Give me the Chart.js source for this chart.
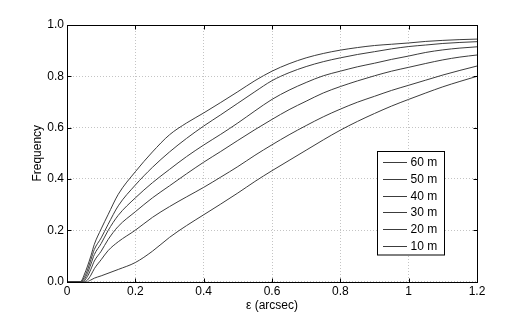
<!DOCTYPE html>
<html>
<head>
<meta charset="utf-8">
<script src="https://cdn.jsdelivr.net/npm/chart.js@4.4.0/dist/chart.umd.min.js"></script>
<style>
html,body{margin:0;padding:0;background:#fff;}
canvas{display:block;}
</style>
</head>
<body>
<canvas id="c" width="529" height="315"></canvas>
<script>
// ---- data ----
const epsilon = [0,0.04,0.05,0.06,0.07,0.08,0.1,0.12,0.15,0.2,0.25,0.3,0.35,0.4,0.45,0.5,0.55,0.6,0.65,0.7,0.75,0.8,0.85,0.9,0.95,1.0,1.05,1.1,1.15,1.2];
const seriesLabels = ['60 m','50 m','40 m','30 m','20 m','10 m'];
const freq60 = [0,0,0.025,0.06,0.10,0.145,0.205,0.26,0.34,0.428,0.505,0.572,0.618,0.657,0.698,0.74,0.783,0.82,0.849,0.872,0.889,0.902,0.912,0.92,0.925,0.93,0.936,0.94,0.943,0.945];
const freq50 = [0,0,0.015,0.045,0.085,0.125,0.17,0.222,0.295,0.376,0.445,0.505,0.558,0.606,0.65,0.695,0.74,0.783,0.814,0.838,0.857,0.872,0.885,0.896,0.907,0.916,0.922,0.928,0.932,0.935];
const freq40 = [0,0,0.008,0.032,0.068,0.105,0.148,0.198,0.258,0.326,0.385,0.437,0.487,0.532,0.574,0.618,0.665,0.71,0.746,0.776,0.802,0.82,0.837,0.851,0.866,0.879,0.893,0.903,0.91,0.915];
const freq30 = [0,0,0.003,0.02,0.048,0.08,0.118,0.163,0.215,0.272,0.326,0.373,0.42,0.465,0.507,0.55,0.592,0.632,0.67,0.703,0.735,0.76,0.782,0.802,0.82,0.835,0.85,0.864,0.875,0.883];
const freq20 = [0,0,0,0.006,0.025,0.05,0.085,0.12,0.155,0.2,0.25,0.292,0.33,0.367,0.407,0.448,0.492,0.533,0.572,0.608,0.642,0.672,0.699,0.722,0.745,0.765,0.785,0.805,0.823,0.84];
const freq10 = [0,0,0,0,0.006,0.013,0.022,0.032,0.047,0.074,0.118,0.172,0.218,0.26,0.302,0.345,0.39,0.432,0.472,0.512,0.552,0.59,0.624,0.655,0.684,0.71,0.735,0.759,0.78,0.80];
const xTickLabels = ['0','0.2','0.4','0.6','0.8','1','1.2'];
const yTickLabels = ['0.0','0.2','0.4','0.6','0.8','1.0'];
const xTitle = 'ε (arcsec)';
const yTitle = 'Frequency';

const allSeries = [freq60,freq50,freq40,freq30,freq20,freq10];
const LINE = '#3c3c3c';
const FONT = '"Liberation Sans", Arial, Helvetica, sans-serif';

const datasets = allSeries.map((vals,i)=>({
  label: seriesLabels[i],
  data: epsilon.map((x,j)=>({x:x,y:vals[j]})),
  borderColor: LINE,
  borderWidth: 1,
  pointRadius: 0,
  cubicInterpolationMode: 'monotone',
  fill: false
}));

const framePlugin = {
  id:'frame',
  afterDraw(chart){
    const ctx = chart.ctx;
    const a = chart.chartArea;
    const xs = chart.scales.x, ys = chart.scales.y;
    ctx.save();
    ctx.strokeStyle = '#000';
    ctx.lineWidth = 1;
    const L = Math.round(a.left)+0.5, R = Math.round(a.right)+0.5, T = Math.round(a.top)+0.5, B = Math.round(a.bottom)+0.5;
    ctx.strokeRect(L, T, R-L, B-T);
    ctx.beginPath();
    xs.ticks.forEach(t=>{
      const px = Math.round(xs.getPixelForValue(t.value))+0.5;
      ctx.moveTo(px,B); ctx.lineTo(px,B-4);
      ctx.moveTo(px,T); ctx.lineTo(px,T+4);
    });
    ys.ticks.forEach(t=>{
      const py = Math.round(ys.getPixelForValue(t.value))+0.5;
      ctx.moveTo(L,py); ctx.lineTo(L+4,py);
      ctx.moveTo(R,py); ctx.lineTo(R-4,py);
    });
    ctx.stroke();

    // axis titles
    ctx.fillStyle = '#000';
    ctx.font = '12px ' + FONT;
    ctx.textAlign = 'center';
    ctx.textBaseline = 'middle';
    ctx.fillText(xTitle, (a.left+a.right)/2, 306);
    ctx.save();
    ctx.translate(38, (a.top+a.bottom)/2);
    ctx.rotate(-Math.PI/2);
    ctx.fillText(yTitle, 0, 0);
    ctx.restore();

    // legend
    const bx = 377.5, by = 151.5, bw = 67, bh = 103.5;
    ctx.fillStyle = '#fff';
    ctx.fillRect(bx, by, bw, bh);
    ctx.strokeStyle = '#000';
    ctx.strokeRect(bx, by, bw, bh);
    ctx.textAlign = 'left';
    chart.data.datasets.forEach((ds,i)=>{
      const y = Math.round(161.7 + i*16.9)+0.5;
      ctx.strokeStyle = ds.borderColor;
      ctx.beginPath();
      ctx.moveTo(383, y); ctx.lineTo(407, y);
      ctx.stroke();
      ctx.fillStyle = '#000';
      ctx.fillText(ds.label, 410.5, y);
    });
    ctx.restore();
  }
};

new Chart(document.getElementById('c'), {
  type:'line',
  data:{datasets},
  plugins:[framePlugin],
  options:{
    responsive:false,
    animation:false,
    events:[],
    layout:{padding:{top:25,right:52,left:0,bottom:0}},
    plugins:{legend:{display:false},tooltip:{enabled:false},title:{display:false}},
    scales:{
      x:{
        type:'linear', min:0, max:1.2,
        afterFit(s){ s.height = 33.5; },
        ticks:{stepSize:0.2, color:'#000', font:{family:FONT,size:12}, padding:3, maxRotation:0,
          callback:(v,i)=>xTickLabels[i]},
        grid:{color:'#c4c4c4', lineWidth:1, drawTicks:false},
        border:{display:false, dash:[1,2]}
      },
      y:{
        type:'linear', min:0, max:1,
        afterFit(s){ s.width = 67; },
        ticks:{stepSize:0.2, color:'#000', font:{family:FONT,size:12}, padding:3,
          callback:(v,i)=>yTickLabels[i]},
        grid:{color:'#c4c4c4', lineWidth:1, drawTicks:false},
        border:{display:false, dash:[1,2]}
      }
    }
  }
});
</script>
</body>
</html>
